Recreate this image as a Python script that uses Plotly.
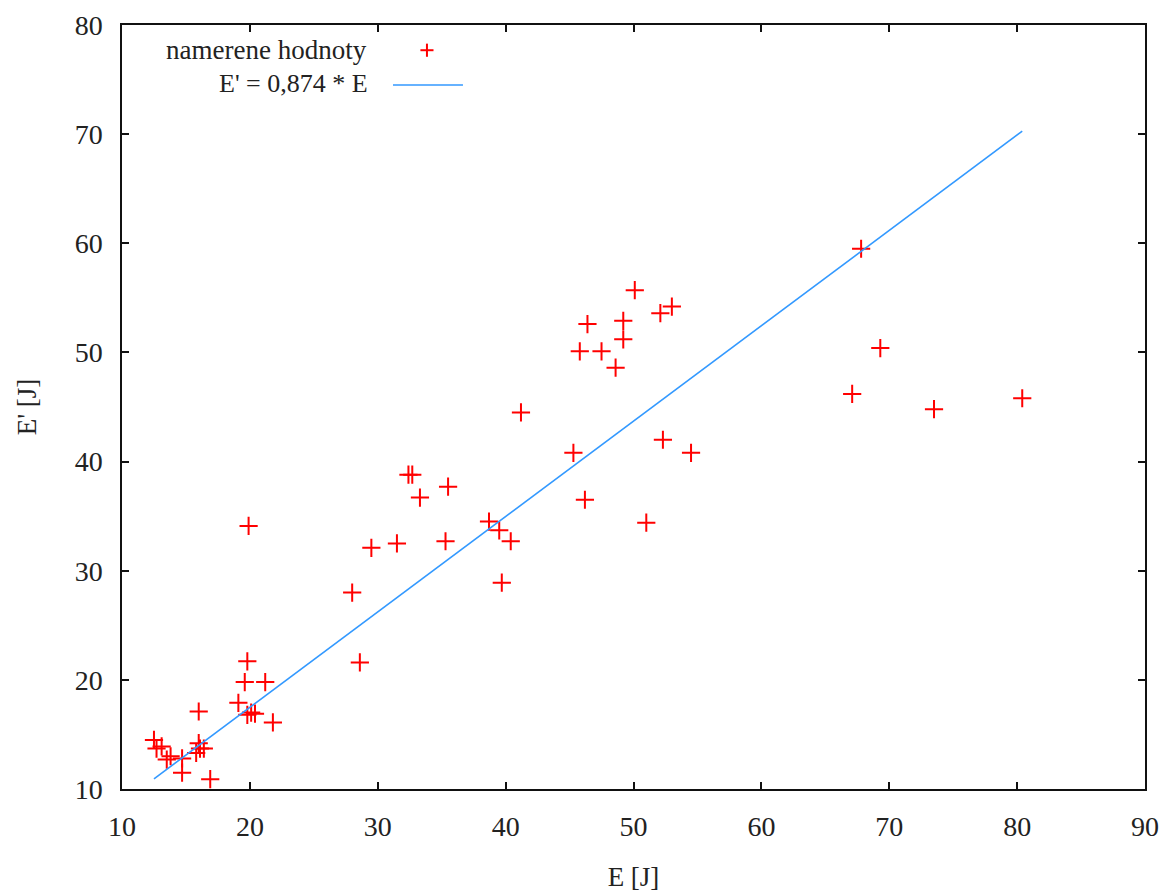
import plotly.graph_objects as go

# Measured values (E [J], E' [J])
E_measured = [12.5, 12.7, 13.1, 13.5, 13.8, 14.7, 14.7, 15.8, 16.1, 16.4, 16.0, 16.9,
              19.8, 19.6, 21.2, 16.0, 19.1, 19.8, 20.1, 20.4, 21.8,
              28.6, 19.9, 28.0,
              32.4, 32.7, 35.5, 33.3, 29.5, 31.5, 35.3, 38.7, 39.5, 40.4, 39.7,
              41.2,
              50.1, 52.1, 53.0, 46.4, 49.2, 49.2, 45.8, 47.5, 48.6, 45.3, 52.3, 54.5, 46.2, 51.0,
              67.8, 69.3, 67.1, 73.5, 80.4]
E_prime = [14.5, 13.7, 13.9, 12.7, 13.0, 12.8, 11.5, 13.3, 13.7, 13.7, 14.2, 10.9,
           21.7, 19.8, 19.8, 17.1, 17.9, 16.8, 17.0, 16.9, 16.1,
           21.6, 34.1, 28.0,
           38.8, 38.8, 37.7, 36.7, 32.1, 32.5, 32.7, 34.5, 33.7, 32.7, 28.9,
           44.5,
           55.7, 53.6, 54.2, 52.6, 52.9, 51.2, 50.1, 50.1, 48.6, 40.8, 42.0, 40.8, 36.5, 34.4,
           59.5, 50.4, 46.2, 44.8, 45.8]

fit_slope = 0.874
legend_labels = ["namerene hodnoty", "E' = 0,874 * E"]
x_ticks = [10, 20, 30, 40, 50, 60, 70, 80, 90]
y_ticks = [10, 20, 30, 40, 50, 60, 70, 80]

FONT = "Liberation Serif, Times New Roman, serif"
TXT = "#222222"

line_x = [min(E_measured), max(E_measured)]
line_y = [fit_slope * v for v in line_x]

fig = go.Figure()
fig.add_trace(go.Scatter(
    x=E_measured, y=E_prime, mode="markers", name=legend_labels[0], showlegend=False,
    marker=dict(symbol="cross-thin", size=13, line=dict(color="#ff0000", width=2), color="#ff0000"),
))
fig.add_trace(go.Scatter(
    x=line_x, y=line_y, mode="lines", name=legend_labels[1], showlegend=False,
    line=dict(color="#3399ff", width=1.6),
))

# custom legend (text then sample, like the original)
fig.add_annotation(xref="paper", yref="paper", x=0.2414, y=0.967, xanchor="right", yanchor="middle",
                   text=legend_labels[0], showarrow=False, font=dict(family=FONT, size=27, color=TXT))
fig.add_annotation(xref="paper", yref="paper", x=0.2424, y=0.9228, xanchor="right", yanchor="middle",
                   text=legend_labels[1], showarrow=False, font=dict(family=FONT, size=26, color=TXT))
cx, cy, hx, hy = 0.2981, 0.967, 0.0064, 0.0086
fig.add_shape(type="line", xref="paper", yref="paper", x0=cx - hx, x1=cx + hx, y0=cy, y1=cy,
              line=dict(color="#ff0000", width=2))
fig.add_shape(type="line", xref="paper", yref="paper", x0=cx, x1=cx, y0=cy - hy, y1=cy + hy,
              line=dict(color="#ff0000", width=2))
fig.add_shape(type="line", xref="paper", yref="paper", x0=0.2649, x1=0.3333, y0=0.9215, y1=0.9215,
              line=dict(color="#3399ff", width=1.6))

axis_common = dict(
    showline=True, linecolor="#111111", linewidth=1.5, mirror="ticks",
    ticks="inside", ticklen=7, tickwidth=1.5, tickcolor="#111111",
    showgrid=False, zeroline=False,
    tickfont=dict(family=FONT, size=28, color=TXT),
)
fig.update_xaxes(range=[10, 90], tickvals=x_ticks, ticklabelstandoff=12,
                 title=dict(text="E [J]", font=dict(family=FONT, size=27, color=TXT), standoff=26),
                 **axis_common)
fig.update_yaxes(range=[10, 80], tickvals=y_ticks, ticklabelstandoff=12,
                 title=dict(text="E' [J]", font=dict(family=FONT, size=27, color=TXT), standoff=30),
                 **axis_common)

fig.update_layout(
    width=1167, height=895,
    margin=dict(l=114, r=30, t=17, b=114, autoexpand=False),
    plot_bgcolor="white", paper_bgcolor="white",
    showlegend=False,
)
fig.write_html("out.html")
